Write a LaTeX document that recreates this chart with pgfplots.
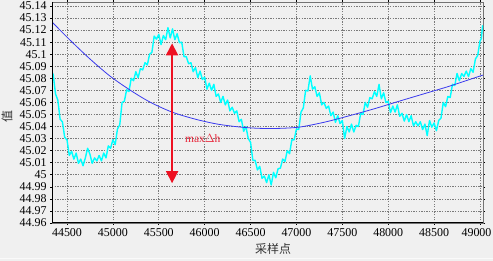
\documentclass[border=0pt]{standalone}
\usepackage{fontspec}
\setmainfont{Liberation Serif}
\newfontfamily\cjk{Noto Sans CJK SC}
\usepackage{pgfplots}
\usepackage{pgfplotstable}
\pgfplotsset{compat=1.18}
\usetikzlibrary{arrows.meta}
\definecolor{bg}{HTML}{F0F0F0}
\definecolor{gridc}{HTML}{7A7A7A}
\definecolor{cyanl}{HTML}{00FFFF}
\definecolor{bluel}{HTML}{3A3AEE}
\definecolor{arrowred}{HTML}{EE1122}
\definecolor{labred}{HTML}{E8283C}

\pgfplotstableread{
x y
44337 45.085
44350 45.083
44375 45.067
44400 45.062
44425 45.046
44450 45.044
44475 45.031
44500 45.029
44525 45.016
44550 45.0195
44575 45.013
44600 45.018
44625 45.0095
44650 45.013
44675 45.0075
44700 45.014
44725 45.022
44750 45.017
44775 45.0095
44800 45.014
44825 45.0115
44850 45.016
44875 45.0115
44900 45.018
44925 45.014
44950 45.024
44975 45.022
45000 45.029
45025 45.025
45050 45.038
45075 45.0415
45100 45.060
45125 45.061
45150 45.0705
45175 45.069
45200 45.080
45225 45.078
45250 45.0855
45275 45.0805
45300 45.088
45325 45.087
45350 45.093
45375 45.091
45400 45.100
45425 45.1015
45450 45.115
45475 45.1125
45500 45.1165
45525 45.108
45550 45.1155
45575 45.112
45600 45.122
45625 45.1135
45650 45.121
45675 45.112
45700 45.117
45725 45.1095
45750 45.110
45775 45.098
45800 45.098
45825 45.092
45850 45.093
45875 45.0855
45900 45.089
45925 45.0805
45950 45.086
45975 45.079
46000 45.081
46025 45.071
46050 45.076
46075 45.070
46100 45.075
46125 45.065
46150 45.067
46175 45.060
46200 45.065
46225 45.058
46250 45.062
46275 45.053
46300 45.056
46325 45.051
46350 45.053
46375 45.044
46400 45.046
46425 45.036
46450 45.040
46475 45.030
46500 45.027
46525 45.012
46550 45.012
46575 45.004
46600 45.007
46625 44.997
46650 44.999
46675 44.9935
46700 45.000
46725 44.9915
46750 45.002
46775 44.9975
46800 45.005
46825 45.0055
46850 45.013
46875 45.011
46900 45.020
46925 45.0175
46950 45.029
46975 45.029
47000 45.038
47025 45.0375
47050 45.052
47075 45.0555
47100 45.070
47125 45.0695
47150 45.082
47175 45.071
47200 45.073
47225 45.065
47250 45.068
47275 45.058
47300 45.060
47325 45.055
47350 45.057
47375 45.049
47400 45.052
47425 45.0435
47450 45.049
47475 45.0425
47500 45.045
47525 45.030
47550 45.040
47575 45.0355
47600 45.042
47625 45.0355
47650 45.041
47675 45.040
47700 45.051
47725 45.050
47750 45.060
47775 45.056
47800 45.064
47825 45.063
47850 45.069
47875 45.065
47900 45.075
47925 45.063
47950 45.068
47975 45.060
48000 45.061
48025 45.0515
48050 45.057
48075 45.052
48100 45.058
48125 45.0485
48150 45.051
48175 45.0445
48200 45.050
48225 45.044
48250 45.049
48275 45.0405
48300 45.044
48325 45.0405
48350 45.044
48375 45.0375
48400 45.042
48425 45.0325
48450 45.045
48475 45.0395
48500 45.043
48525 45.0365
48550 45.045
48575 45.047
48600 45.060
48625 45.0565
48650 45.065
48675 45.064
48700 45.075
48725 45.074
48750 45.084
48775 45.078
48800 45.084
48825 45.0815
48850 45.086
48875 45.0815
48900 45.088
48925 45.085
48950 45.096
48975 45.099
49000 45.111
49015 45.113
49028 45.124
}\measured

\pgfplotstableread{
x y
44337 45.1267
44533 45.1117
44751 45.0960
44968 45.0819
45186 45.0703
45404 45.0603
45644 45.0520
45894 45.0462
46134 45.0421
46384 45.0396
46602 45.0385
46820 45.0385
47038 45.0396
47310 45.0437
47583 45.0491
47855 45.0549
48127 45.0612
48400 45.0674
48672 45.0736
49031 45.0827
}\fitted

\begin{document}
\begin{tikzpicture}
\fill[bg] (0,0) rectangle (493bp,261bp);
\useasboundingbox (0,0) rectangle (493bp,261bp);
\draw[white!70!bg, line width=0.8bp] (0,3bp) -- (493bp,3bp);
\begin{axis}[
  at={(52bp,38bp)}, anchor=south west,
  scale only axis, width=431bp, height=221bp,
  xmin=44336.6, xmax=49032.7,
  ymin=44.96, ymax=45.1433,
  scaled x ticks=false, scaled y ticks=false,
  xtick={44500,45000,45500,46000,46500,47000,47500,48000,48500,49000},
  xticklabels={44500,45000,45500,46000,46500,47000,47500,48000,48500,{\kern-7bp 49000}},
  ytick={44.96,44.97,44.98,44.99,45,45.01,45.02,45.03,45.04,45.05,45.06,45.07,45.08,45.09,45.1,45.11,45.12,45.13,45.14},
  yticklabels={44.96,44.97,44.98,44.99,45,45.01,45.02,45.03,45.04,45.05,45.06,45.07,45.08,45.09,45.1,45.11,45.12,45.13,45.14},
  tick label style={font=\fontsize{12}{14}\selectfont, black},
  /pgf/number format/assume math mode=true,
  tick align=outside, major tick length=2bp,
  tick style={black, line width=0.6bp},
  axis background/.style={fill=bg},
  axis line style={draw=gray!90!black, line width=0.8bp},
  grid=major,
  major grid style={gridc, line width=0.7bp, dash pattern=on 1.3bp off 1.3bp},
  xlabel={\cjk 采样点},
  ylabel={\cjk 值},
  label style={font=\fontsize{12}{14}\selectfont, black!80},
  xlabel style={at={(axis description cs:0.513,-0.118)}, anchor=center},
  ylabel style={at={(axis description cs:-0.104,0.484)}, anchor=center},
  clip=true,
]
\addplot[cyanl, line width=1.4bp, line join=round] table[x=x,y=y] {\measured};
\addplot[bluel, line width=0.8bp, smooth] table[x=x,y=y] {\fitted};
\addplot[arrowred, line width=1.6bp, {Triangle[width=12bp,length=12bp]}-{Triangle[width=12bp,length=12bp]}] coordinates {(45645,45.109) (45645,44.993)};
\node[anchor=west, text=labred, font=\fontsize{11.5}{13}\selectfont, inner sep=0pt] at (axis cs:45785,45.0305) {max$\Delta$h};
\draw[black, line width=1.4bp] (rel axis cs:0,1) -- (rel axis cs:0,0) -- (rel axis cs:1,0);
\end{axis}
\end{tikzpicture}
\end{document}
